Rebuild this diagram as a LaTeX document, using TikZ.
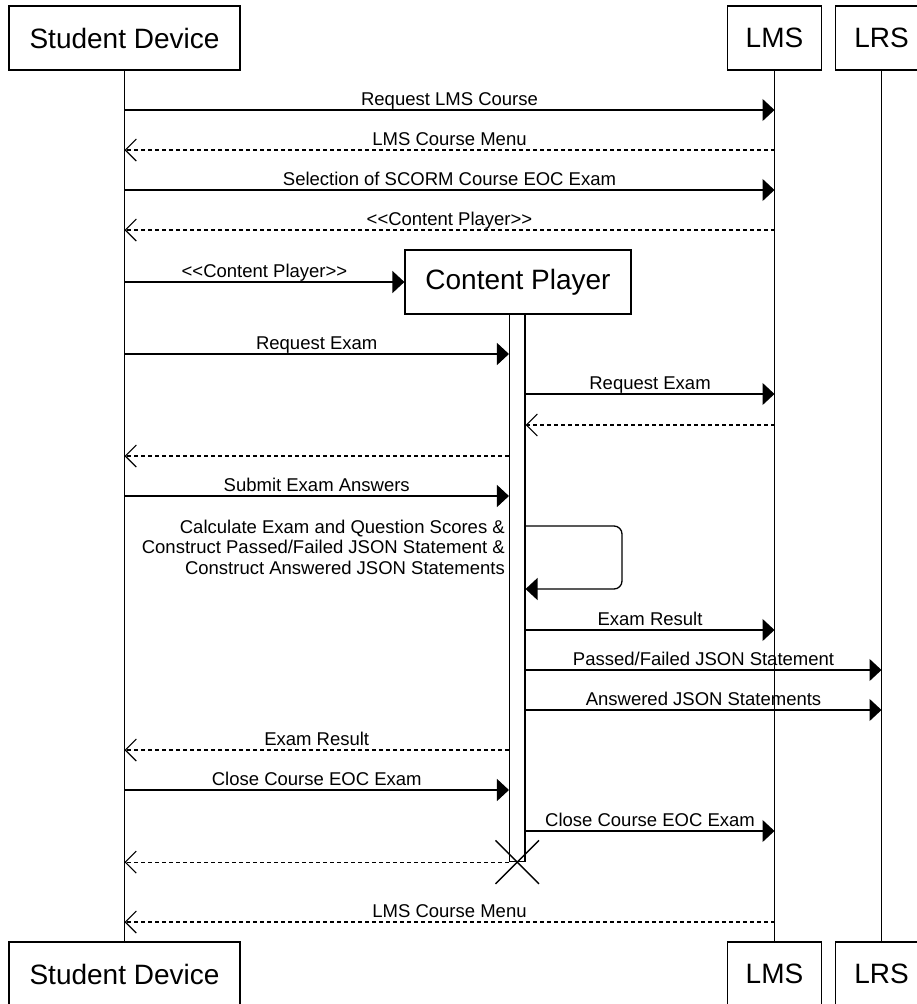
\documentclass[tikz,border=0pt]{standalone}
\usepackage{fontspec}
\setmainfont{Liberation Sans}
\usetikzlibrary{arrows.meta,shapes.misc}
\newcommand{\cpstereo}{<\kern0pt<Content Player>\kern0pt>}
\begin{document}
\begin{tikzpicture}[x=1pt,y=-1pt,
  actor/.style={draw, line width=1.2pt, minimum height=64pt, inner sep=0pt, font=\fontsize{28}{32}\selectfont, fill=white},
  life/.style={line width=1.1pt},
  sync/.style={line width=1.3pt, -{Triangle[length=12pt,width=22pt]}},
  reply/.style={line width=1.2pt, dash pattern=on 4pt off 3pt, -{Straight Barb[length=11pt,width=22pt,line width=1.1pt]}},
  lbl/.style={font=\fontsize{18.5}{20.7}\selectfont, inner sep=0pt, anchor=base, yshift=5pt},
]
\clip (0,0) rectangle (917,1004);
\fill[white] (0,0) rectangle (917,1004);

% actors
\node[actor, minimum width=231pt] (sdTop) at (124.5,38) {Student Device};
\node[actor, minimum width=94pt] (lmsTop) at (774.5,38) {LMS};
\node[actor, minimum width=92pt] (lrsTop) at (881.5,38) {LRS};
\node[actor, minimum width=231pt] (sdBot) at (124.5,974) {Student Device};
\node[actor, minimum width=94pt] (lmsBot) at (774.5,974) {LMS};
\node[actor, minimum width=92pt] (lrsBot) at (881.5,974) {LRS};

% lifelines
\draw[life] (sdTop.south) -- (sdBot.north);
\draw[life] (lmsTop.south) -- (lmsBot.north);
\draw[life] (lrsTop.south) -- (lrsBot.north);

% messages before content player
\draw[sync] (sdTop |- 0,110) -- (lmsTop |- 0,110) node[lbl, midway] {Request LMS Course};
\draw[reply] (lmsTop |- 0,150) -- (sdTop |- 0,150) node[lbl, midway] {LMS Course Menu};
\draw[sync] (sdTop |- 0,190) -- (lmsTop |- 0,190) node[lbl, midway] {Selection of SCORM Course EOC Exam};
\draw[reply] (lmsTop |- 0,230) -- (sdTop |- 0,230) node[lbl, midway] {\cpstereo};

% content player
\node[actor, minimum width=226pt] (cp) at (518,282) {Content Player};
\node[draw, line width=1.1pt, fill=white, minimum width=15.5pt, minimum height=547pt, inner sep=0pt, anchor=north] (bar) at (517.25,314) {};
\draw[sync] (sdTop |- 0,282) -- (cp.west) node[lbl, midway] {\cpstereo};

\draw[sync] (sdTop |- 0,354) -- (bar.west |- 0,354) node[lbl, midway] {Request Exam};
\draw[sync] (bar.east |- 0,394) -- (lmsTop |- 0,394) node[lbl, midway] {Request Exam};
\draw[reply] (lmsTop |- 0,425) -- (bar.east |- 0,425);
\draw[reply] (bar.west |- 0,456) -- (sdTop |- 0,456);
\draw[sync] (sdTop |- 0,496) -- (bar.west |- 0,496) node[lbl, midway] {Submit Exam Answers};

% self message
\draw[sync, rounded corners=8pt] (bar.east |- 0,526) -- (622,526) -- (622,589) -- (bar.east |- 0,589);
\node[font=\fontsize{18.5}{20.7}\selectfont, align=right, anchor=north east, inner sep=0pt] (calc) at (505,519.5)
  {Calculate Exam and Question Scores \&\\Construct Passed/Failed JSON Statement \&\\Construct Answered JSON Statements};

\draw[sync] (bar.east |- 0,630) -- (lmsTop |- 0,630) node[lbl, midway] {Exam Result};
\draw[sync] (bar.east |- 0,670) -- (lrsTop |- 0,670) node[lbl, midway] {Passed/Failed JSON Statement};
\draw[sync] (bar.east |- 0,710) -- (lrsTop |- 0,710) node[lbl, midway] {Answered JSON Statements};
\draw[reply] (bar.west |- 0,750) -- (sdTop |- 0,750) node[lbl, midway] {Exam Result};
\draw[sync] (sdTop |- 0,790) -- (bar.west |- 0,790) node[lbl, midway] {Close Course EOC Exam};
\draw[sync] (bar.east |- 0,831) -- (lmsTop |- 0,831) node[lbl, midway] {Close Course EOC Exam};
\draw[reply] (bar.south west) -- (sdTop |- bar.south);

% destruction
\node[draw, cross out, line width=1.4pt, minimum size=42pt, inner sep=0pt] (destroy) at (bar.south) {};

\draw[reply] (lmsTop |- 0,922) -- (sdTop |- 0,922) node[lbl, midway] {LMS Course Menu};
\end{tikzpicture}
\end{document}
